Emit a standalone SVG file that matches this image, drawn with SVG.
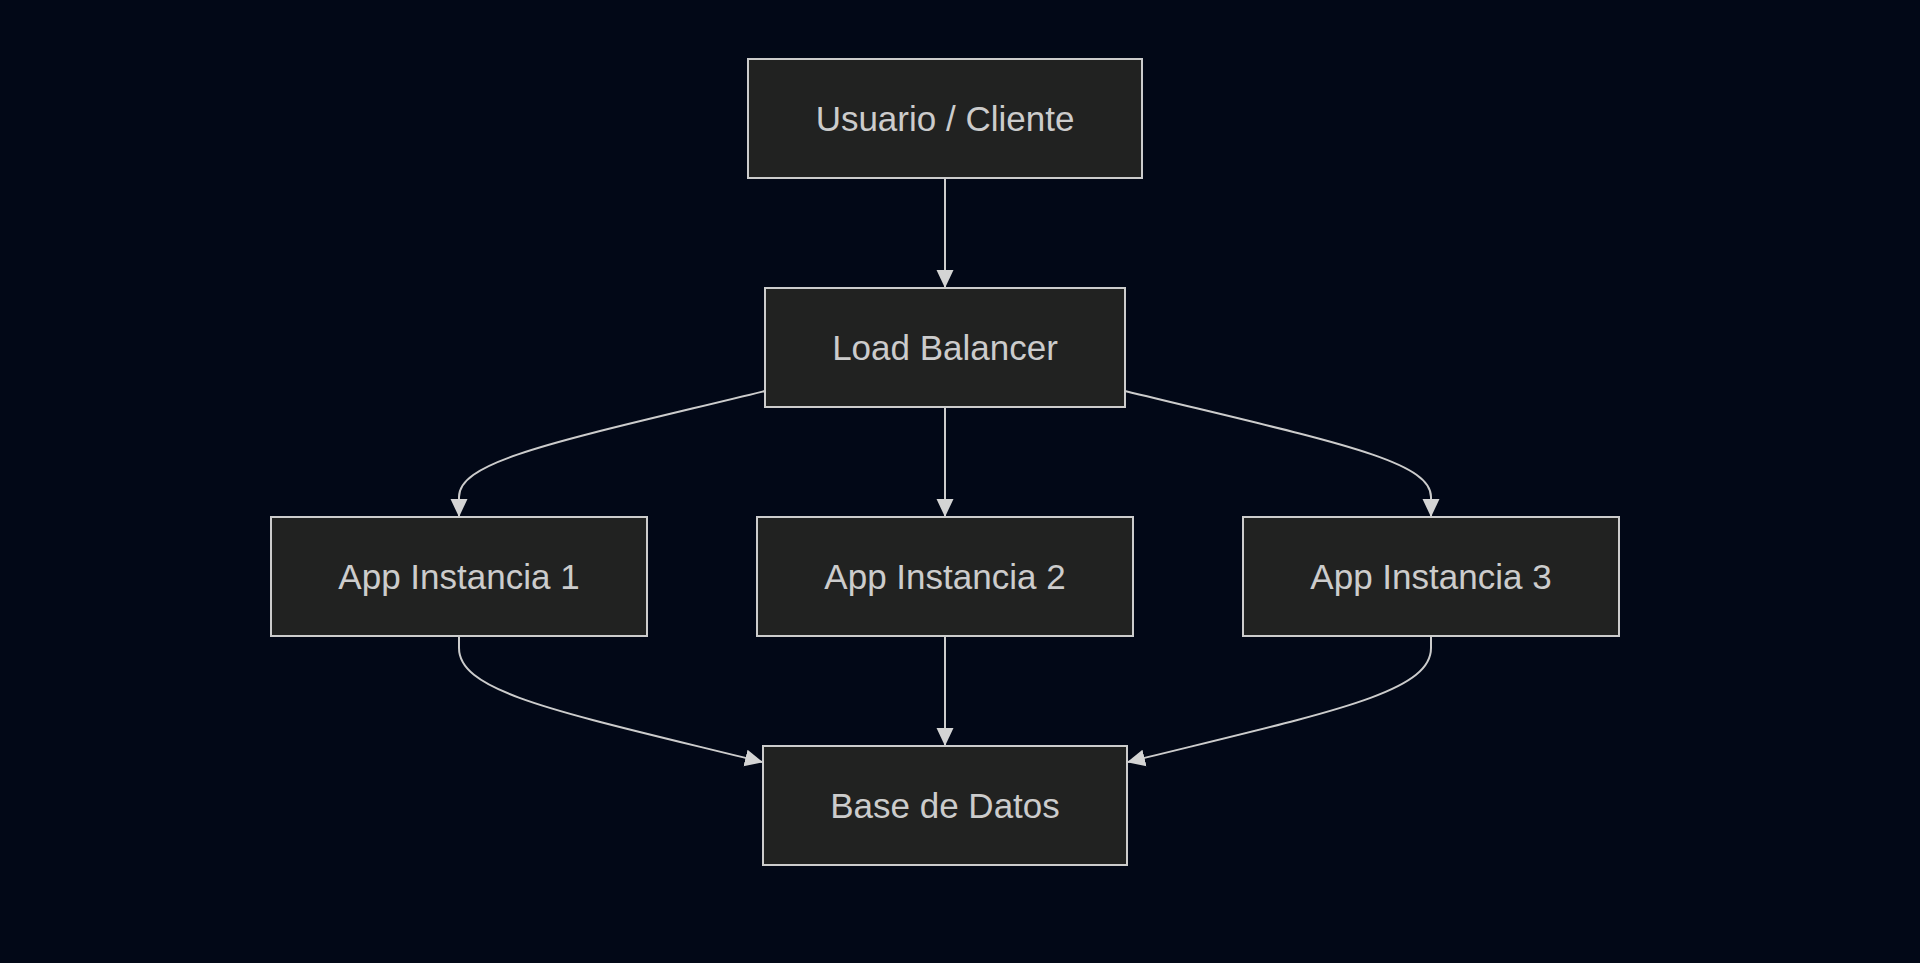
<svg xmlns="http://www.w3.org/2000/svg" width="1920" height="963" viewBox="0 0 1920 963">
  <defs>
    <style>
      .node rect { fill: #212221; stroke: #cccccc; stroke-width: 2; }
      .node text { fill: #cccccc; font-family: "Liberation Sans", Arial, sans-serif; font-size: 35px; text-anchor: middle; }
      .edge { fill: none; stroke: #cccccc; stroke-width: 2; }
    </style>
    <marker id="arrow" viewBox="0 0 18 18" refX="17" refY="9" markerWidth="18" markerHeight="18" markerUnits="userSpaceOnUse" orient="auto">
      <path d="M0,0.5 L18,9 L0,17.5 Z" fill="#d4d4d4"/>
    </marker>
  </defs>
  <rect x="0" y="0" width="1920" height="963" fill="#020817"/>

  <g id="connectors">
    <path class="edge" d="M945,178 L945,287" marker-end="url(#arrow)"/>
    <path class="edge" d="M945,407 L945,516" marker-end="url(#arrow)"/>
    <path class="edge" d="M945,636 L945,745" marker-end="url(#arrow)"/>
    <path class="edge" d="M765,391 C560,441 459,460 459,497 L459,516" marker-end="url(#arrow)"/>
    <path class="edge" d="M1125,391 C1330,441 1431,460 1431,497 L1431,516" marker-end="url(#arrow)"/>
    <path class="edge" d="M459,636 L459,648 C459,693 560,712 762,762" marker-end="url(#arrow)"/>
    <path class="edge" d="M1431,636 L1431,648 C1431,693 1330,712 1128,762" marker-end="url(#arrow)"/>
  </g>

  <g id="node-usuario" class="node">
    <rect x="748" y="59" width="394" height="119"/>
    <text x="945" y="131">Usuario / Cliente</text>
  </g>
  <g id="node-lb" class="node">
    <rect x="765" y="288" width="360" height="119"/>
    <text x="945" y="360">Load Balancer</text>
  </g>
  <g id="node-app1" class="node">
    <rect x="271" y="517" width="376" height="119"/>
    <text x="459" y="589">App Instancia 1</text>
  </g>
  <g id="node-app2" class="node">
    <rect x="757" y="517" width="376" height="119"/>
    <text x="945" y="589">App Instancia 2</text>
  </g>
  <g id="node-app3" class="node">
    <rect x="1243" y="517" width="376" height="119"/>
    <text x="1431" y="589">App Instancia 3</text>
  </g>
  <g id="node-db" class="node">
    <rect x="763" y="746" width="364" height="119"/>
    <text x="945" y="818">Base de Datos</text>
  </g>
</svg>
